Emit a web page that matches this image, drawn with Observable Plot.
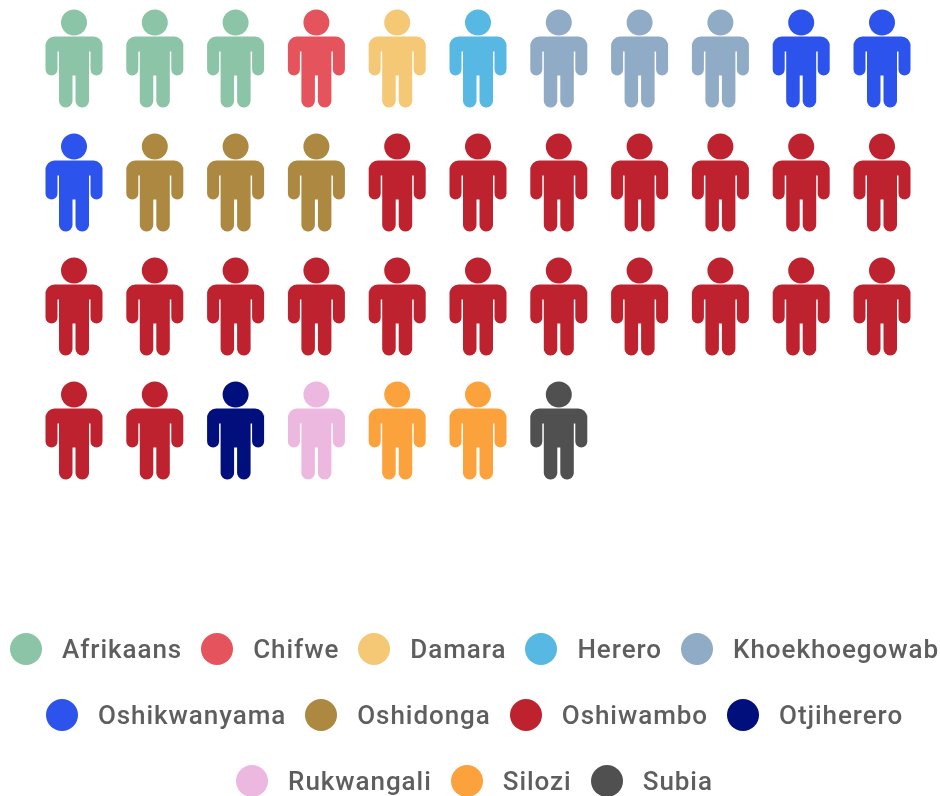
<!DOCTYPE html>
<html><head><meta charset="utf-8">
<script src="https://cdn.jsdelivr.net/npm/d3@7"></script>
<script src="https://cdn.jsdelivr.net/npm/@observablehq/plot@0.6"></script>
<style>
html,body{margin:0;padding:0;background:#fff;overflow:hidden;width:940px;height:796px}
svg{display:block}
#chart,#legend{filter:blur(0.5px)}
#legend{display:flex;flex-direction:column;row-gap:34px;width:949px;font-family:Roboto,sans-serif;font-size:26px;font-weight:500;letter-spacing:0.95px;color:#5e5e5e;margin-top:17px}
.row{display:flex;justify-content:center;column-gap:19px}
.item{display:flex;align-items:center;height:32px;white-space:nowrap}
.sw{width:32px;height:32px;border-radius:50%;margin-right:20px}
</style></head><body>
<div id="chart"></div><div id="legend"></div>
<script>
const languages = ["Afrikaans","Chifwe","Damara","Herero","Khoekhoegowab","Oshikwanyama","Oshidonga","Oshiwambo","Otjiherero","Rukwangali","Silozi","Subia"];
const counts = [3,1,1,1,3,3,3,20,1,1,2,1];
const colors = ["#8CC4A8","#E5545C","#F4C874","#58B8E4","#90ABC6","#2C54EC","#AC8840","#BE222E","#000F7C","#ECB8E0","#FBA23C","#505050"];
const perRow = 11;
const legendRows = [5,4,3];

const people = languages.flatMap((language,i)=>Array.from({length:counts[i]},()=>({language})));
people.forEach((d,i)=>{d.col=i%perRow;d.row=Math.floor(i/perRow);});

const person = {draw(c,size){
  const k=Math.sqrt(size/Math.PI)/48;
  const rr=(x0,y0,x1,y1,r)=>{x0*=k;y0*=k;x1*=k;y1*=k;r*=k;
    c.moveTo(x0+r,y0);c.lineTo(x1-r,y0);c.arcTo(x1,y0,x1,y0+r,r);c.lineTo(x1,y1-r);c.arcTo(x1,y1,x1-r,y1,r);
    c.lineTo(x0+r,y1);c.arcTo(x0,y1,x0,y1-r,r);c.lineTo(x0,y0+r);c.arcTo(x0,y0,x0+r,y0,r);c.closePath();};
  c.moveTo(13*k,-37*k);c.arc(0,-37*k,13*k,0,2*Math.PI);c.closePath();
  rr(-28.5,-23,28.5,-8,9);
  rr(-28.5,-20,-16.5,16,6);
  rr(16.5,-20,28.5,16,6);
  rr(-15,-23,15,16,2);
  rr(-15,8,-1.5,48,6.5);
  rr(1.5,8,15,48,6.5);
}};

const plot = Plot.plot({
  width:940,height:616,margin:0,
  x:{domain:[0,10],range:[73.5,881.5],axis:null},
  y:{domain:[0,3],range:[59,431],axis:null},
  color:{domain:languages,range:colors},
  marks:[Plot.dot(people,{x:"col",y:"row",r:48,fill:"language",symbol:person,stroke:null})]
});
document.getElementById("chart").append(plot);

const legend=document.getElementById("legend");
let next=0;
legendRows.forEach(n=>{
  const row=document.createElement("div");row.className="row";
  for(let j=0;j<n;j++,next++){
    const it=document.createElement("div");it.className="item";
    const s=document.createElement("div");s.className="sw";s.style.background=colors[next];
    const t=document.createElement("span");t.textContent=languages[next];
    it.append(s,t);row.append(it);
  }
  legend.append(row);
});
</script></body></html>
